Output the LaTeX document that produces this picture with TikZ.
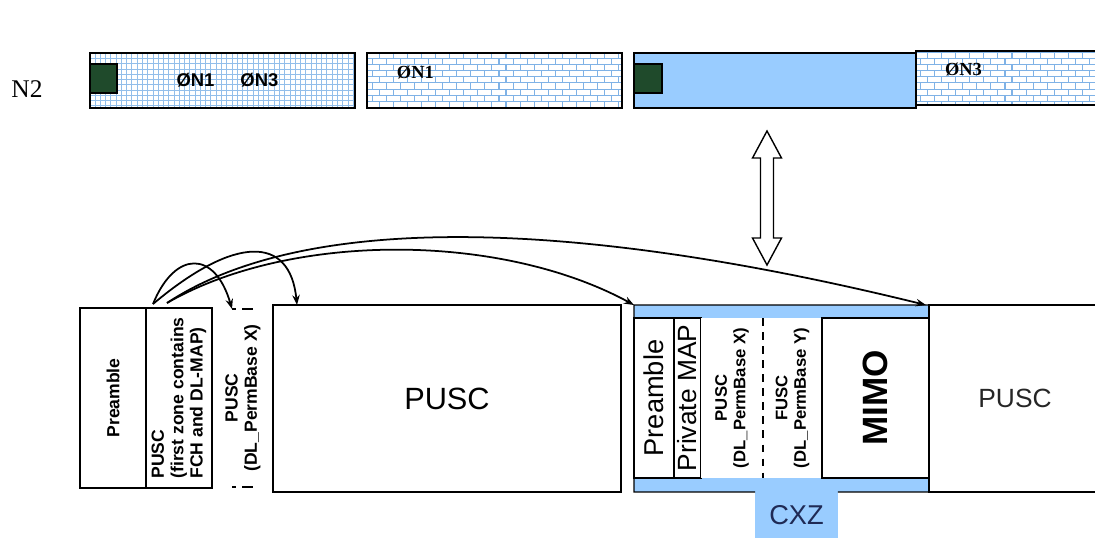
\documentclass[tikz,border=0pt]{standalone}
\usepackage{fontspec}
\setmainfont{Liberation Serif}
\setsansfont{Liberation Sans}
\usepackage{tikz}
\usetikzlibrary{arrows.meta, positioning, calc, patterns}
\definecolor{zoneblue}{HTML}{99CCFF}
\definecolor{gridblue}{HTML}{92BEEA}
\definecolor{brickblue}{HTML}{7FB2E6}
\definecolor{burstgreen}{HTML}{1F4A2B}
\definecolor{cxznavy}{HTML}{1F2A55}

% light blue brick texture of the top row
\pgfdeclarepatternformonly{smallbricks}{\pgfqpoint{-1pt}{-1pt}}{\pgfqpoint{9pt}{8pt}}{\pgfqpoint{8pt}{7pt}}{
    \pgfsetlinewidth{0.6pt}
    \pgfpathmoveto{\pgfqpoint{0pt}{0pt}}\pgfpathlineto{\pgfqpoint{8pt}{0pt}}
    \pgfpathmoveto{\pgfqpoint{0pt}{3.5pt}}\pgfpathlineto{\pgfqpoint{8pt}{3.5pt}}
    \pgfpathmoveto{\pgfqpoint{0pt}{0pt}}\pgfpathlineto{\pgfqpoint{0pt}{3.5pt}}
    \pgfpathmoveto{\pgfqpoint{4pt}{3.5pt}}\pgfpathlineto{\pgfqpoint{4pt}{7pt}}
    \pgfusepath{stroke}
}

\begin{document}
\begin{tikzpicture}[
    x=0.02cm, y=-0.02cm,
    every node/.style={inner sep=0pt, outer sep=0pt},
    box/.style={draw, thick, anchor=north west},
    rowbox/.style={box, minimum height=1.10cm},
    burst/.style={box, fill=burstgreen, minimum width=0.54cm, minimum height=0.58cm},
    zonebox/.style={box, minimum height=3.20cm, fill=white},
    vtext/.style={rotate=90, align=center, font=\sffamily\bfseries\fontsize{10}{11}\selectfont},
    bigtext/.style={rotate=90, font=\sffamily\fontsize{15.5}{17}\selectfont},
    link/.style={-{Stealth[length=2mm]}, line width=1pt}
]
    \useasboundingbox (0,0) rectangle (1095,538);

    % top row
    \node[font=\fontsize{14.5}{16}\selectfont] (n2) at (27,89) {N2};
    \node[rowbox, minimum width=5.30cm, pattern=grid, pattern color=gridblue] (rowA) at (90,53) {};
    \node[rowbox, minimum width=5.10cm, pattern=smallbricks, pattern color=brickblue, right=0.24cm of rowA] (rowB) {};
    \node[rowbox, minimum width=5.64cm, fill=zoneblue, right=0.24cm of rowB] (rowC) {};
    \node[rowbox, minimum width=4.00cm, minimum height=1.08cm, pattern=smallbricks, pattern color=brickblue] (rowD) at (916,51) {};
    \node[burst] (burstA) at (90,64) {};
    \node[burst, minimum width=0.56cm] (burstC) at (634,64) {};

    \node[font=\sffamily\bfseries\fontsize{10.5}{12}\selectfont, xshift=0.1cm] (labA) at (rowA.center) {ØN1\hspace{0.52cm}ØN3};
    \node[font=\bfseries\fontsize{10.5}{12}\selectfont, anchor=west] (labB) at ($(rowB.north west)+(30,19)$) {ØN1};
    \node[font=\bfseries\fontsize{10.5}{12}\selectfont, anchor=west] (labD) at ($(rowD.north west)+(29,18)$) {ØN3};

    % hollow double arrow
    \draw[thick, fill=white] (767,131) -- (781.5,158) -- (773.5,158) -- (773.5,238) -- (781.5,238)
        -- (767,265) -- (752.5,238) -- (760.5,238) -- (760.5,158) -- (752.5,158) -- cycle;

    % bottom row, left part
    \node[box, minimum width=1.32cm, minimum height=3.60cm] (pre) at (80,308) {};
    \node[box, minimum width=1.32cm, minimum height=3.60cm, right=0pt of pre] (first) {};
    \node[anchor=north west, minimum width=0.44cm, minimum height=3.56cm] (perm) at (232,309) {};
    \node[box, minimum width=6.96cm, minimum height=3.74cm] (pusc) at (273,305) {};

    \node[vtext] at (pre.center) {Preamble};
    \node[vtext, align=left] at (first.center) {PUSC\\(first zone contains\\FCH and DL-MAP)};
    \node[vtext] at (perm.center) {PUSC\\(DL\_PermBase X)};
    \node[font=\sffamily\fontsize{17.5}{20}\selectfont] at (pusc.center) {PUSC};
    \draw[thick, dash pattern=on 2.3pt off 3.4pt on 6.2pt off 20pt] (perm.north west) -- (perm.north east);
    \draw[thick, dash pattern=on 2.3pt off 3.4pt on 6.2pt off 20pt] (perm.south west) -- (perm.south east);

    % bottom row, CXZ zone
    \node[anchor=north west, minimum width=5.90cm, minimum height=3.74cm, fill=zoneblue] (cxz) at (634,305) {};
    \node[anchor=north west, minimum width=1.66cm, minimum height=0.92cm, fill=zoneblue] (tab) at (755,492) {};
    \node[zonebox, minimum width=0.80cm] (cpre) at (634,318) {};
    \node[zonebox, minimum width=0.54cm, right=0pt of cpre] (cmap) {};
    \node[zonebox, draw=none, minimum width=1.24cm, right=0pt of cmap] (permX) {};
    \node[zonebox, draw=none, minimum width=1.18cm, right=0pt of permX] (permY) {};
    \node[zonebox, minimum width=2.14cm, right=0pt of permY] (mimo) {};
    \draw[thick] (tab.north west) -- (cxz.south west) -- (cxz.north west) -- (cxz.north east)
        -- (cxz.south east) -- (tab.north east);
    \draw[thick, dash pattern=on 4.5pt off 3.5pt] (permX.north east) -- (permX.south east);

    \node[bigtext] at (cpre.center) {Preamble};
    \node[bigtext, font=\sffamily\fontsize{15}{17}\selectfont] at (cmap.center) {Private MAP};
    \node[vtext, font=\sffamily\bfseries\fontsize{9.5}{10.5}\selectfont] at (permX.center) {PUSC\\(DL\_PermBase X)};
    \node[vtext, font=\sffamily\bfseries\fontsize{9.5}{10.5}\selectfont] at (permY.center) {FUSC\\(DL\_PermBase Y)};
    \node[rotate=90, font=\sffamily\bfseries\fontsize{20}{22}\selectfont] at (mimo.center) {MIMO};
    \node[font=\sffamily\fontsize{15.5}{17}\selectfont, text=cxznavy] at (tab.center) {CXZ};

    % bottom row, right part
    \node[box, minimum width=3.70cm, minimum height=3.74cm, right=0pt of cxz] (rpusc) {};
    \node[font=\sffamily\fontsize{15}{17}\selectfont, text=black!85] at (1015,398) {PUSC};

    % pointers from the first zone
    \coordinate (src1) at ($(first.north west)+(7,-4)$);
    \coordinate (src2) at ($(first.north west)+(21,-5)$);
    \draw[link] (src1) .. controls (175,250) and (215,250) .. (perm.north west);
    \draw[link] (src1) .. controls (235,235) and (290,235) .. ($(pusc.north west)+(24,0)$);
    \draw[link] (src2) .. controls (290,232) and (500,232) .. (cxz.north west);
    \draw[link] (src2) .. controls (300,215) and (560,215) .. ($(cxz.north east)+(-3,0)$);
\end{tikzpicture}
\end{document}
